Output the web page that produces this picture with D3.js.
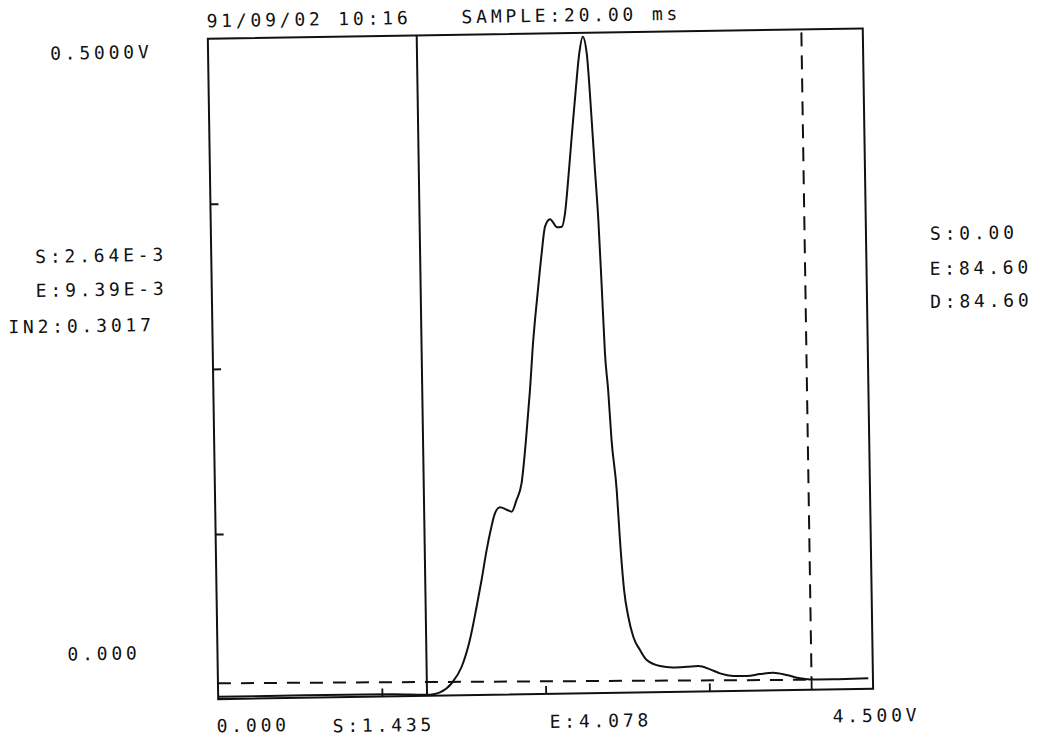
<!DOCTYPE html>
<html>
<head>
<meta charset="utf-8">
<script src="https://cdn.jsdelivr.net/npm/d3@7"></script>
<style>
  html, body { margin: 0; padding: 0; background: #fff; }
  svg { display: block; }
  text { font-family: "DejaVu Sans Mono", "Liberation Mono", monospace; font-size: 18px; fill: #111; letter-spacing: 3.8px; }
</style>
</head>
<body>
<svg id="chart" width="1040" height="742"></svg>
<script>
// Detector trace: time (x) and signal in volts (y)
const traceX = [0.000, 0.600, 1.200, 1.435, 1.480, 1.524, 1.605, 1.676, 1.735, 1.785, 1.822, 1.860,
  1.890, 1.921, 1.956, 2.006, 2.036, 2.071, 2.107, 2.142, 2.175, 2.203, 2.217, 2.243, 2.270,
  2.296, 2.331, 2.380, 2.411, 2.435, 2.460, 2.489, 2.524, 2.550, 2.576, 2.601, 2.628, 2.645,
  2.663, 2.679, 2.694, 2.712, 2.730, 2.760, 2.777, 2.800, 2.826, 2.858, 2.903, 2.948, 3.039,
  3.130, 3.222, 3.301, 3.382, 3.450, 3.541, 3.633, 3.724, 3.815, 3.907, 3.999, 4.068, 4.228,
  4.365, 4.468];
const traceY = [0.0018, 0.0018, 0.0016, 0.0008, 0.0012, 0.0025, 0.0092, 0.0216, 0.0417, 0.0668, 0.0870, 0.1096,
  0.1247, 0.1373, 0.1418, 0.1397, 0.1384, 0.1472, 0.1597, 0.1924, 0.2303, 0.2681, 0.2832, 0.3083, 0.3336,
  0.3537, 0.3593, 0.3531, 0.3535, 0.3638, 0.3888, 0.4215, 0.4593, 0.4846, 0.4971, 0.4845, 0.4339, 0.3960,
  0.3581, 0.3076, 0.2574, 0.2293, 0.1914, 0.1535, 0.1157, 0.0777, 0.0575, 0.0423, 0.0321, 0.0245, 0.0198,
  0.0186, 0.0189, 0.0193, 0.0167, 0.0135, 0.0114, 0.0112, 0.0125, 0.0134, 0.0115, 0.0088, 0.0079, 0.0077,
  0.0079, 0.0080];

// Integration window and its baseline
const startTime = 1.435;
const endTime = 4.078;
const baselineX = [0.000, 4.078];
const baselineY = [0.0120, 0.0076];

// Axis ranges and division ticks
const xDomain = [0, 4.5];
const yDomain = [0, 0.5];
const xTicks = [1.125, 2.25, 3.375];
const yTicks = [0.125, 0.25, 0.375];

// Printed annotations
const headerLabels = ["91/09/02 10:16", "SAMPLE:20.00 ms"];
const leftLabels = ["0.5000V", "S:2.64E-3", "E:9.39E-3", "IN2:0.3017", "0.000"];
const rightLabels = ["S:0.00", "E:84.60", "D:84.60"];
const bottomLabels = ["0.000", "S:1.435", "E:4.078", "4.500V"];

// ---- layout ----
const frame = { left: 213, right: 868, top: 33.5, bottom: 694 };
const headerPos = [[212, 22], [467, 22]];
const leftPos = [[55, 52], [37, 255], [37, 289], [9, 325], [63, 653]];
const rightPos = [[932, 246], [931, 281], [931, 314]];
const bottomPos = [[211, 727], [327, 729], [544, 728], [827, 727]];

const svg = d3.select("#chart");
// the printed sheet sits slightly askew
const g = svg.append("g").attr("transform", "rotate(-0.9, 541, 365)");

const x = d3.scaleLinear().domain(xDomain).range([frame.left, frame.right]);
const y = d3.scaleLinear().domain(yDomain).range([frame.bottom, frame.top]);

// frame
g.append("rect")
  .attr("x", frame.left).attr("y", frame.top)
  .attr("width", frame.right - frame.left).attr("height", frame.bottom - frame.top)
  .attr("fill", "none").attr("stroke", "#111").attr("stroke-width", 2);

// division ticks drawn with d3 axes, pointing inward
const yAxis = d3.axisRight(y).tickValues(yTicks).tickSize(8).tickFormat("");
g.append("g").attr("transform", `translate(${frame.left},0)`).call(yAxis)
  .call(s => s.select(".domain").remove())
  .call(s => s.selectAll("line").attr("stroke", "#111").attr("stroke-width", 2));

const xAxis = d3.axisTop(x).tickValues(xTicks).tickSize(8).tickFormat("");
g.append("g").attr("transform", `translate(0,${frame.bottom})`).call(xAxis)
  .call(s => s.select(".domain").remove())
  .call(s => s.selectAll("line").attr("stroke", "#111").attr("stroke-width", 1.8));

// start marker (solid) and end marker (dashed above the trace)
g.append("line")
  .attr("x1", x(startTime)).attr("x2", x(startTime))
  .attr("y1", y(yDomain[1])).attr("y2", y(0))
  .attr("stroke", "#111").attr("stroke-width", 2);

g.append("line")
  .attr("x1", x(endTime)).attr("x2", x(endTime))
  .attr("y1", y(yDomain[1]) + 3).attr("y2", y(baselineY[1]))
  .attr("stroke", "#111").attr("stroke-width", 2)
  .attr("stroke-dasharray", "14,9");
g.append("line")
  .attr("x1", x(endTime)).attr("x2", x(endTime))
  .attr("y1", y(baselineY[1])).attr("y2", y(0))
  .attr("stroke", "#111").attr("stroke-width", 1.8);

// integration baseline
g.append("line")
  .attr("x1", x(baselineX[0])).attr("x2", x(baselineX[1]))
  .attr("y1", y(baselineY[0])).attr("y2", y(baselineY[1]))
  .attr("stroke", "#111").attr("stroke-width", 2)
  .attr("stroke-dasharray", "13,10");

// trace
const pts = traceX.map((t, i) => [t, traceY[i]]);
const line = d3.line().x(d => x(d[0])).y(d => y(d[1])).curve(d3.curveMonotoneX);
g.append("path").datum(pts)
  .attr("d", line)
  .attr("fill", "none").attr("stroke", "#111").attr("stroke-width", 2)
  .attr("stroke-linejoin", "round");

// labels
function putLabels(labels, pos) {
  g.selectAll(null).data(labels).enter().append("text")
    .attr("x", (d, i) => pos[i][0]).attr("y", (d, i) => pos[i][1])
    .text(d => d);
}
putLabels(headerLabels, headerPos);
putLabels(leftLabels, leftPos);
putLabels(rightLabels, rightPos);
putLabels(bottomLabels, bottomPos);
</script>
</body>
</html>
